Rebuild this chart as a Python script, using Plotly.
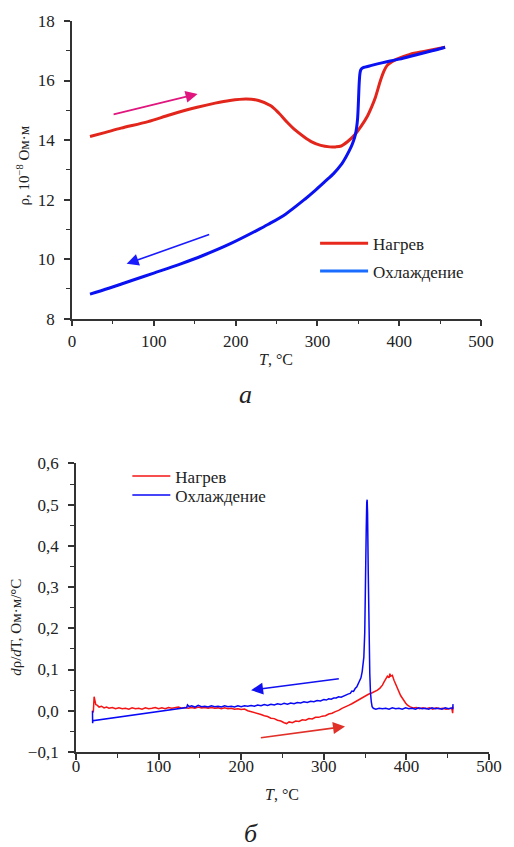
import plotly.graph_objects as go

# ---------- top panel (a): resistivity ----------
heat_T = [22, 40, 60, 93, 120, 153, 175, 193, 213, 228, 243, 253, 263, 273, 283, 293, 304, 315, 322,
          329, 337, 345, 353, 361, 366, 371, 377, 381, 385, 391, 397, 413, 433, 456]
heat_rho = [14.12, 14.25, 14.4, 14.62, 14.85, 15.1, 15.24, 15.33, 15.38, 15.33, 15.15, 14.9, 14.6, 14.33,
            14.12, 13.94, 13.82, 13.77, 13.77, 13.8, 13.95, 14.16, 14.45, 14.8, 15.1, 15.45, 16.0, 16.3,
            16.5, 16.63, 16.72, 16.88, 16.99, 17.12]

cool_T = [456, 440, 420, 400, 380, 365, 358, 355, 353, 352, 351.2, 350.5, 349.8, 349, 348, 346.5, 344,
          341, 335, 329, 320, 309, 297, 285, 261, 240, 225, 193, 160, 133, 100, 73, 45, 22]
cool_rho = [17.12, 17.0, 16.86, 16.72, 16.6, 16.5, 16.45, 16.42, 16.36, 16.25, 16.0, 15.6, 15.1, 14.7,
            14.45, 14.2, 13.97, 13.76, 13.44, 13.17, 12.88, 12.6, 12.3, 12.02, 11.51, 11.17, 10.95,
            10.51, 10.12, 9.84, 9.53, 9.28, 9.02, 8.82]

# ---------- bottom panel (б): derivative ----------
dheat_T = [20, 21, 22, 23, 24, 26, 28, 31, 34, 37, 40, 44, 48, 52, 56, 60, 64, 68, 72, 76, 80, 84, 88, 92,
           96, 100, 104, 108, 112, 116, 120, 124, 128, 132, 136, 140, 144, 148, 152, 156, 160, 164, 168,
           172, 176, 180, 184, 188, 192, 196, 200, 204, 208, 212, 216, 220, 224, 228, 232, 236, 240, 244,
           248, 252, 255, 258, 262, 266, 270, 274, 278, 282, 286, 290, 294, 298, 302, 306, 310, 314, 318,
           322, 326, 330, 334, 338, 342, 346, 350, 354, 358, 362, 365, 368, 371, 373, 375, 377, 379, 380,
           381, 383, 385, 387, 389, 391, 393, 395, 397, 399, 401, 404, 408, 412, 416, 420, 424, 428, 432,
           436, 440, 444, 448, 452, 455, 456, 456.5]
dheat_v = [0.000, -0.004, 0.034, 0.022, 0.015, 0.013, 0.009, 0.011, 0.007, 0.009, 0.006, 0.008, 0.005,
           0.007, 0.005, 0.006, 0.004, 0.007, 0.005, 0.006, 0.004, 0.007, 0.005, 0.006, 0.008, 0.005,
           0.007, 0.005, 0.008, 0.006, 0.007, 0.009, 0.006, 0.008, 0.006, 0.008, 0.006, 0.009, 0.007,
           0.008, 0.006, 0.008, 0.006, 0.007, 0.005, 0.007, 0.005, 0.006, 0.004, 0.005, 0.003, 0.004,
           0.000, -0.002, -0.004, -0.007, -0.009, -0.012, -0.014, -0.018, -0.019, -0.023, -0.025, -0.029,
           -0.031, -0.027, -0.029, -0.025, -0.026, -0.022, -0.023, -0.019, -0.020, -0.016, -0.016, -0.013,
           -0.012, -0.008, -0.006, -0.002, 0.001, 0.006, 0.009, 0.013, 0.017, 0.022, 0.026, 0.031, 0.036,
           0.040, 0.043, 0.046, 0.050, 0.055, 0.062, 0.070, 0.077, 0.084, 0.080, 0.090, 0.084, 0.086,
           0.074, 0.064, 0.056, 0.046, 0.037, 0.031, 0.024, 0.019, 0.014, 0.010, 0.007, 0.008, 0.005,
           0.007, 0.005, 0.007, 0.004, 0.007, 0.005, 0.006, 0.004, 0.006, 0.006, -0.006, 0.010]

dcool_T = [456.5, 456, 455, 451, 447, 443, 439, 435, 431, 427, 423, 419, 415, 411, 407, 403, 399, 395, 391,
           387, 383, 379, 375, 371, 367, 363, 360, 358.5, 357.5, 356.5, 355.7, 354.7, 353.8, 353.0, 352.5,
           352.0, 351.4, 350.6, 349.6, 348.5, 347.5, 346.5, 345, 343.5, 342, 340, 338, 336, 334, 332, 330,
           327, 324, 321, 318, 315, 312, 309, 306, 303, 300, 296, 292, 288, 284, 280, 276, 272, 268, 264,
           260, 256, 252, 248, 244, 240, 236, 232, 228, 224, 220, 216, 212, 208, 204, 200, 196, 192, 188,
           184, 180, 176, 172, 168, 164, 160, 156, 152, 148, 144, 140, 137, 135, 134, 20.5, 20.2, 20]
dcool_v = [0.016, 0.004, 0.007, 0.005, 0.007, 0.004, 0.006, 0.005, 0.007, 0.004, 0.006, 0.005, 0.007,
           0.004, 0.006, 0.005, 0.007, 0.004, 0.006, 0.005, 0.007, 0.004, 0.006, 0.005, 0.006, 0.004,
           0.006, 0.010, 0.022, 0.045, 0.090, 0.190, 0.340, 0.480, 0.512, 0.505, 0.440, 0.310, 0.190,
           0.130, 0.108, 0.095, 0.080, 0.072, 0.066, 0.058, 0.054, 0.047, 0.048, 0.042, 0.041, 0.038,
           0.037, 0.033, 0.034, 0.031, 0.031, 0.028, 0.029, 0.026, 0.027, 0.024, 0.025, 0.022, 0.023,
           0.020, 0.022, 0.019, 0.020, 0.017, 0.019, 0.016, 0.018, 0.015, 0.017, 0.014, 0.016, 0.013,
           0.015, 0.012, 0.014, 0.011, 0.013, 0.011, 0.012, 0.010, 0.012, 0.009, 0.011, 0.010, 0.012,
           0.009, 0.011, 0.010, 0.012, 0.009, 0.011, 0.010, 0.013, 0.009, 0.012, 0.010, 0.014, 0.008,
           -0.024, -0.030, 0.000]

legend_names = ["Нагрев", "Охлаждение"]

FONT = "Liberation Serif, Tinos, Times New Roman, DejaVu Serif, serif"
AX = "#333333"
TXT = "#222222"

W, H = 514, 847
ML, MR, MT, MB = 72, 20, 20, 95
PW, PH = W - ML - MR, H - MT - MB


def px_x(p):
    return (p - ML) / PW


def px_y(p):
    return 1 - (p - MT) / PH


fig = go.Figure()

fig.add_trace(go.Scatter(x=heat_T, y=heat_rho, mode="lines",
                         line=dict(color="#e2261c", width=3, shape="spline", smoothing=0.9),
                         xaxis="x", yaxis="y", showlegend=False))
fig.add_trace(go.Scatter(x=cool_T, y=cool_rho, mode="lines",
                         line=dict(color="#0a12f2", width=3, shape="spline", smoothing=0.9),
                         xaxis="x", yaxis="y", showlegend=False))
fig.add_trace(go.Scatter(x=[None], y=[None], mode="lines", line=dict(color="#e8281c", width=3),
                         name=legend_names[0], legend="legend", xaxis="x", yaxis="y"))
fig.add_trace(go.Scatter(x=[None], y=[None], mode="lines", line=dict(color="#1a6cff", width=3),
                         name=legend_names[1], legend="legend2", xaxis="x", yaxis="y"))

fig.add_trace(go.Scatter(x=dheat_T, y=dheat_v, mode="lines", line=dict(color="#f41414", width=1.5),
                         xaxis="x2", yaxis="y2", name=legend_names[0], legend="legend3"))
fig.add_trace(go.Scatter(x=dcool_T, y=dcool_v, mode="lines", line=dict(color="#0808f6", width=1.5),
                         xaxis="x2", yaxis="y2", name=legend_names[1], legend="legend4"))

axis_common = dict(showline=True, linecolor=AX, linewidth=1.8, ticks="outside", ticklen=6, tickwidth=1.5,
                   tickcolor=AX, showgrid=False, zeroline=False, mirror=False,
                   tickfont=dict(family=FONT, size=17, color=TXT),
                   minor=dict(ticks="outside", ticklen=4, tickwidth=1.3, tickcolor=AX, showgrid=False))


def leg(xp, yp, iw):
    return dict(x=px_x(xp), y=px_y(yp), xanchor="left", yanchor="middle", bgcolor="rgba(0,0,0,0)",
                font=dict(family=FONT, size=17, color=TXT), itemwidth=iw)


fig.update_layout(
    width=W, height=H, margin=dict(l=ML, r=MR, t=MT, b=MB),
    paper_bgcolor="white", plot_bgcolor="white",
    separators=", ",
    font=dict(family=FONT, color=TXT),
    xaxis=dict(domain=[0, px_x(486)], range=[0, 500], anchor="y", dtick=100, tick0=0,
               ticklabelstandoff=0, **axis_common),
    yaxis=dict(domain=[px_y(318), 1], range=[8, 18], anchor="x", dtick=2, tick0=8,
               ticklabelstandoff=6, **axis_common),
    xaxis2=dict(domain=[px_x(76), 1], range=[0, 500], anchor="y2", dtick=100, tick0=0,
                ticklabelstandoff=-8, **axis_common),
    yaxis2=dict(domain=[0, px_y(463)], range=[-0.1, 0.6], anchor="x2", dtick=0.1, tick0=0,
                tickformat=".1f", ticklabelstandoff=6, **axis_common),
    legend=leg(318, 243, 48),
    legend2=leg(318, 270.7, 48),
    legend3=leg(128, 476, 38),
    legend4=leg(128, 495, 38),
)
fig.update_xaxes(minor=dict(dtick=50))
fig.update_layout(yaxis=dict(minor=dict(dtick=1)), yaxis2=dict(minor=dict(dtick=0.05)))

# direction arrows (data coordinates)
arrows = [
    dict(x=153.5, y=15.55, ax=49, ay=14.85, xref="x", yref="y", color="#e0157e"),
    dict(x=66.8, y=9.84, ax=169.5, ay=10.84, xref="x", yref="y", color="#1a1aff"),
    dict(x=212, y=0.05, ax=320, ay=0.078, xref="x2", yref="y2", color="#1010f0"),
    dict(x=325.7, y=-0.038, ax=222, ay=-0.066, xref="x2", yref="y2", color="#e03028"),
]
for a in arrows:
    fig.add_annotation(x=a["x"], y=a["y"], ax=a["ax"], ay=a["ay"], xref=a["xref"], yref=a["yref"],
                       axref=a["xref"], ayref=a["yref"], showarrow=True, arrowhead=2, arrowsize=1.5,
                       arrowwidth=1.6, arrowcolor=a["color"], text="")

# axis titles and panel labels
texts = [
    dict(x=px_x(278), y=px_y(359), text="<i>T</i>, °C", size=16, angle=0),
    dict(x=px_x(285), y=px_y(795), text="<i>T</i>, °C", size=16, angle=0),
    dict(x=px_x(22), y=px_y(165), text="ρ, 10<sup>−8</sup> Ом·м", size=15, angle=-90),
    dict(x=px_x(16), y=px_y(627), text="<i>d</i>ρ/<i>d</i>T, Ом·м/°C", size=15, angle=-90),
    dict(x=px_x(248), y=px_y(394), text="<i>а</i>", size=26, angle=0),
    dict(x=px_x(253), y=px_y(834), text="<i>б</i>", size=26, angle=0),
]
for t in texts:
    fig.add_annotation(x=t["x"], y=t["y"], xref="paper", yref="paper", text=t["text"], showarrow=False,
                       textangle=t["angle"], xanchor="center", yanchor="middle",
                       font=dict(family=FONT, size=t["size"], color=TXT))

fig.write_html("out.html")
